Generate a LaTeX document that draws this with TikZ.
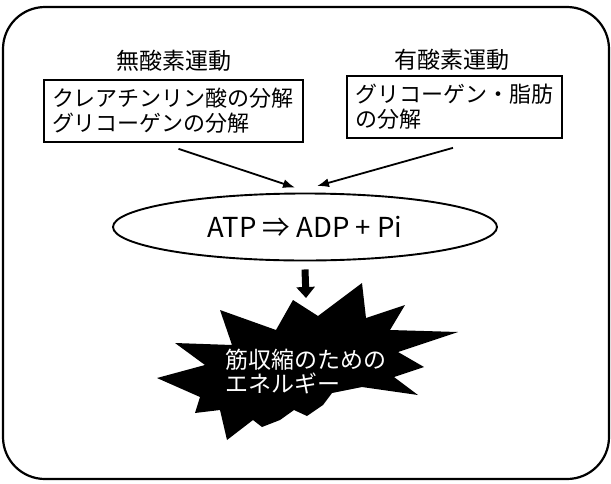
\documentclass[tikz,border=0pt]{standalone}
\usepackage{fontspec}
\setmainfont{Noto Sans CJK JP}
\usepackage{tikz}
\usetikzlibrary{positioning,shapes.geometric,arrows.meta}

\begin{document}
\begin{tikzpicture}[x=1pt, y=-1pt,
  heading/.style={font=\fontsize{23}{26}\selectfont, inner sep=0pt},
  srcbox/.style={draw, line width=1.7pt, align=left, inner xsep=8pt, inner ysep=3pt,
    minimum height=62pt, font=\fontsize{22}{25}\selectfont},
  conn/.style={line width=1.8pt, -{Latex[length=12pt,width=9pt]}},
  bigarrow/.style={line width=7pt, -{Triangle[length=11pt,width=18pt]}},
  bursttext/.style={text=white, align=left, inner sep=0pt, font=\fontsize{23}{24}\selectfont}]
\useasboundingbox (0,0) rectangle (611,483);
% Outer frame
\draw[line width=2.2pt, rounded corners=42pt] (3,7) rectangle (609,479);

% Two kinds of exercise
\node[heading] (anaerobic) at (174,61) {無酸素運動};
\node[heading] (aerobic) at (452,60) {有酸素運動};
\node[srcbox, text width=243pt] (anaerobicbox) at (173.5,111) {クレアチンリン酸の分解\\グリコーゲンの分解};
\node[srcbox, text width=199pt] (aerobicbox) at (454.5,107) {グリコーゲン・脂肪\\の分解};

% ATP breakdown
\node[draw, ellipse, line width=1.9pt, minimum width=384pt, minimum height=67pt,
  font=\fontsize{27.5}{30}\selectfont] (atp) at (305,227) {ATP ⇒ ADP + Pi};
\draw[conn] ([xshift=5pt,yshift=-6pt]anaerobicbox.south) -- ([xshift=-10pt,yshift=5pt]atp.north);
\draw[conn] ([xshift=-1.5pt,yshift=-9pt]aerobicbox.south) -- ([xshift=12pt,yshift=6.5pt]atp.north);

% Energy burst
\coordinate (bursttop) at (306,298);
\draw[bigarrow] ([yshift=-8pt]atp.south) -- (bursttop);
\fill (293,300) -- (318,316) -- (362,283) -- (366,318) -- (405,305) -- (390,330)
  -- (458,332) -- (398,352) -- (424,367) -- (394,377) -- (418,395) -- (362,387)
  -- (332,393) -- (323,405) -- (307,416) -- (294,410) -- (280,420) -- (262,427)
  -- (253,420) -- (227,440) -- (220,410) -- (195,413) -- (200,397) -- (157,378)
  -- (205,365) -- (175,343) -- (232,345) -- (220,310) -- (276,330) -- cycle;
\node[bursttext, anchor=west] (energy) at (225,371.5) {筋収縮のための\\エネルギー};
\end{tikzpicture}
\end{document}
